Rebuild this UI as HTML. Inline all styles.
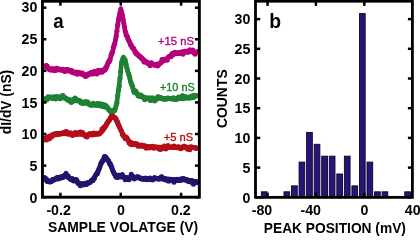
<!DOCTYPE html>
<html><head><meta charset="utf-8"><style>
html,body{margin:0;padding:0;background:#fff;width:420px;height:236px;overflow:hidden}
svg{display:block;font-family:"Liberation Sans",sans-serif;will-change:transform}
</style></head><body>
<svg width="420" height="236" viewBox="0 0 420 236">
<polyline points="43.5,67.0 46.0,66.0 50.0,68.8 56.0,70.3 62.0,69.6 68.0,69.9 74.0,72.8 80.0,73.9 86.0,74.7 92.0,73.9 98.0,73.0 102.0,71.5 105.6,67.5 108.0,63.0 110.4,58.0 112.5,52.0 114.4,44.6 115.6,40.0 118.4,20.0 120.8,8.5 123.3,20.0 124.9,30.0 128.3,40.0 130.5,44.2 133.5,49.3 138.0,54.5 142.0,58.0 146.0,61.5 150.0,64.0 155.0,65.0 160.0,63.2 165.0,60.0 170.0,56.4 175.0,53.5 180.0,52.2 185.0,51.0 190.0,51.6 195.0,52.8 197.5,52.5" fill="none" stroke="#b4007a" stroke-width="4.6" stroke-linejoin="round" stroke-linecap="round"/>
<g fill="#b4007a"><circle cx="43.50" cy="66.79" r="2.5"/><circle cx="44.25" cy="67.00" r="2.5"/><circle cx="45.00" cy="66.39" r="2.5"/><circle cx="45.75" cy="65.83" r="2.5"/><circle cx="46.50" cy="65.41" r="2.5"/><circle cx="47.25" cy="66.13" r="2.5"/><circle cx="48.00" cy="67.89" r="2.5"/><circle cx="48.75" cy="68.57" r="2.5"/><circle cx="49.50" cy="69.71" r="2.5"/><circle cx="50.25" cy="69.83" r="2.5"/><circle cx="51.00" cy="69.96" r="2.5"/><circle cx="51.75" cy="69.94" r="2.5"/><circle cx="52.50" cy="68.45" r="2.5"/><circle cx="53.25" cy="69.74" r="2.5"/><circle cx="54.00" cy="70.30" r="2.5"/><circle cx="54.75" cy="70.71" r="2.5"/><circle cx="55.50" cy="69.19" r="2.5"/><circle cx="56.25" cy="68.21" r="2.5"/><circle cx="57.00" cy="68.20" r="2.5"/><circle cx="57.75" cy="68.51" r="2.5"/><circle cx="58.50" cy="69.32" r="2.5"/><circle cx="59.25" cy="69.47" r="2.5"/><circle cx="60.00" cy="70.00" r="2.5"/><circle cx="60.75" cy="69.31" r="2.5"/><circle cx="61.50" cy="69.65" r="2.5"/><circle cx="62.25" cy="69.94" r="2.5"/><circle cx="63.00" cy="69.29" r="2.5"/><circle cx="63.75" cy="70.92" r="2.5"/><circle cx="64.50" cy="70.93" r="2.5"/><circle cx="65.25" cy="71.49" r="2.5"/><circle cx="66.00" cy="70.32" r="2.5"/><circle cx="66.75" cy="69.53" r="2.5"/><circle cx="67.50" cy="69.40" r="2.5"/><circle cx="68.25" cy="69.65" r="2.5"/><circle cx="69.00" cy="70.69" r="2.5"/><circle cx="69.75" cy="71.14" r="2.5"/><circle cx="70.50" cy="70.97" r="2.5"/><circle cx="71.25" cy="70.58" r="2.5"/><circle cx="72.00" cy="70.86" r="2.5"/><circle cx="72.75" cy="72.64" r="2.5"/><circle cx="73.50" cy="72.15" r="2.5"/><circle cx="74.25" cy="72.80" r="2.5"/><circle cx="75.00" cy="73.32" r="2.5"/><circle cx="75.75" cy="72.07" r="2.5"/><circle cx="76.50" cy="72.67" r="2.5"/><circle cx="77.25" cy="74.14" r="2.5"/><circle cx="78.00" cy="72.29" r="2.5"/><circle cx="78.75" cy="72.65" r="2.5"/><circle cx="79.50" cy="73.11" r="2.5"/><circle cx="80.25" cy="72.83" r="2.5"/><circle cx="81.00" cy="73.79" r="2.5"/><circle cx="81.75" cy="73.93" r="2.5"/><circle cx="82.50" cy="72.88" r="2.5"/><circle cx="83.25" cy="74.22" r="2.5"/><circle cx="84.00" cy="74.93" r="2.5"/><circle cx="84.75" cy="75.62" r="2.5"/><circle cx="85.50" cy="76.50" r="2.5"/><circle cx="86.25" cy="76.09" r="2.5"/><circle cx="87.00" cy="75.52" r="2.5"/><circle cx="87.75" cy="73.95" r="2.5"/><circle cx="88.50" cy="74.57" r="2.5"/><circle cx="89.25" cy="73.88" r="2.5"/><circle cx="90.00" cy="73.55" r="2.5"/><circle cx="90.75" cy="72.64" r="2.5"/><circle cx="91.50" cy="72.30" r="2.5"/><circle cx="92.25" cy="72.41" r="2.5"/><circle cx="93.00" cy="73.96" r="2.5"/><circle cx="93.75" cy="72.06" r="2.5"/><circle cx="94.50" cy="71.35" r="2.5"/><circle cx="95.25" cy="72.31" r="2.5"/><circle cx="96.00" cy="73.85" r="2.5"/><circle cx="96.75" cy="74.00" r="2.5"/><circle cx="97.50" cy="71.97" r="2.5"/><circle cx="98.25" cy="70.13" r="2.5"/><circle cx="99.00" cy="71.26" r="2.5"/><circle cx="99.75" cy="70.91" r="2.5"/><circle cx="100.50" cy="70.26" r="2.5"/><circle cx="101.25" cy="71.52" r="2.5"/><circle cx="102.00" cy="72.27" r="2.5"/><circle cx="102.75" cy="71.26" r="2.5"/><circle cx="103.50" cy="70.40" r="2.5"/><circle cx="104.25" cy="69.70" r="2.5"/><circle cx="105.00" cy="69.93" r="2.5"/><circle cx="105.75" cy="68.79" r="2.5"/><circle cx="106.50" cy="67.19" r="2.5"/><circle cx="107.25" cy="65.70" r="2.5"/><circle cx="108.00" cy="62.46" r="2.5"/><circle cx="108.75" cy="62.19" r="2.5"/><circle cx="109.50" cy="61.13" r="2.5"/><circle cx="110.25" cy="59.51" r="2.5"/><circle cx="111.00" cy="55.35" r="2.5"/><circle cx="111.75" cy="53.05" r="2.5"/><circle cx="112.50" cy="52.05" r="2.5"/><circle cx="113.25" cy="47.59" r="2.5"/><circle cx="114.00" cy="45.11" r="2.5"/><circle cx="114.75" cy="43.49" r="2.5"/><circle cx="115.50" cy="39.42" r="2.5"/><circle cx="116.25" cy="36.13" r="2.5"/><circle cx="117.00" cy="30.93" r="2.5"/><circle cx="117.75" cy="25.07" r="2.5"/><circle cx="118.50" cy="20.05" r="2.5"/><circle cx="119.25" cy="16.79" r="2.5"/><circle cx="120.00" cy="12.95" r="2.5"/><circle cx="120.75" cy="10.07" r="2.5"/><circle cx="121.50" cy="11.96" r="2.5"/><circle cx="122.25" cy="14.97" r="2.5"/><circle cx="123.00" cy="19.37" r="2.5"/><circle cx="123.75" cy="23.29" r="2.5"/><circle cx="124.50" cy="27.05" r="2.5"/><circle cx="125.25" cy="31.55" r="2.5"/><circle cx="126.00" cy="34.78" r="2.5"/><circle cx="126.75" cy="35.99" r="2.5"/><circle cx="127.50" cy="36.82" r="2.5"/><circle cx="128.25" cy="39.24" r="2.5"/><circle cx="129.00" cy="40.85" r="2.5"/><circle cx="129.75" cy="42.22" r="2.5"/><circle cx="130.50" cy="45.05" r="2.5"/><circle cx="131.25" cy="45.12" r="2.5"/><circle cx="132.00" cy="47.60" r="2.5"/><circle cx="132.75" cy="47.47" r="2.5"/><circle cx="133.50" cy="48.31" r="2.5"/><circle cx="134.25" cy="50.10" r="2.5"/><circle cx="135.00" cy="51.94" r="2.5"/><circle cx="135.75" cy="53.17" r="2.5"/><circle cx="136.50" cy="53.82" r="2.5"/><circle cx="137.25" cy="54.38" r="2.5"/><circle cx="138.00" cy="55.08" r="2.5"/><circle cx="138.75" cy="55.99" r="2.5"/><circle cx="139.50" cy="56.16" r="2.5"/><circle cx="140.25" cy="56.91" r="2.5"/><circle cx="141.00" cy="57.87" r="2.5"/><circle cx="141.75" cy="58.23" r="2.5"/><circle cx="142.50" cy="59.35" r="2.5"/><circle cx="143.25" cy="60.12" r="2.5"/><circle cx="144.00" cy="62.05" r="2.5"/><circle cx="144.75" cy="62.06" r="2.5"/><circle cx="145.50" cy="61.70" r="2.5"/><circle cx="146.25" cy="61.72" r="2.5"/><circle cx="147.00" cy="62.15" r="2.5"/><circle cx="147.75" cy="63.39" r="2.5"/><circle cx="148.50" cy="63.26" r="2.5"/><circle cx="149.25" cy="63.97" r="2.5"/><circle cx="150.00" cy="65.81" r="2.5"/><circle cx="150.75" cy="63.08" r="2.5"/><circle cx="151.50" cy="62.71" r="2.5"/><circle cx="152.25" cy="63.70" r="2.5"/><circle cx="153.00" cy="64.49" r="2.5"/><circle cx="153.75" cy="64.88" r="2.5"/><circle cx="154.50" cy="64.62" r="2.5"/><circle cx="155.25" cy="65.29" r="2.5"/><circle cx="156.00" cy="65.11" r="2.5"/><circle cx="156.75" cy="64.21" r="2.5"/><circle cx="157.50" cy="66.05" r="2.5"/><circle cx="158.25" cy="65.30" r="2.5"/><circle cx="159.00" cy="63.97" r="2.5"/><circle cx="159.75" cy="63.45" r="2.5"/><circle cx="160.50" cy="62.79" r="2.5"/><circle cx="161.25" cy="62.29" r="2.5"/><circle cx="162.00" cy="59.56" r="2.5"/><circle cx="162.75" cy="59.62" r="2.5"/><circle cx="163.50" cy="60.71" r="2.5"/><circle cx="164.25" cy="59.35" r="2.5"/><circle cx="165.00" cy="59.27" r="2.5"/><circle cx="165.75" cy="59.82" r="2.5"/><circle cx="166.50" cy="59.86" r="2.5"/><circle cx="167.25" cy="60.19" r="2.5"/><circle cx="168.00" cy="57.50" r="2.5"/><circle cx="168.75" cy="56.80" r="2.5"/><circle cx="169.50" cy="56.17" r="2.5"/><circle cx="170.25" cy="56.43" r="2.5"/><circle cx="171.00" cy="56.84" r="2.5"/><circle cx="171.75" cy="53.74" r="2.5"/><circle cx="172.50" cy="54.88" r="2.5"/><circle cx="173.25" cy="53.26" r="2.5"/><circle cx="174.00" cy="53.90" r="2.5"/><circle cx="174.75" cy="52.28" r="2.5"/><circle cx="175.50" cy="52.70" r="2.5"/><circle cx="176.25" cy="53.78" r="2.5"/><circle cx="177.00" cy="53.22" r="2.5"/><circle cx="177.75" cy="53.09" r="2.5"/><circle cx="178.50" cy="53.44" r="2.5"/><circle cx="179.25" cy="53.02" r="2.5"/><circle cx="180.00" cy="52.50" r="2.5"/><circle cx="180.75" cy="53.49" r="2.5"/><circle cx="181.50" cy="53.60" r="2.5"/><circle cx="182.25" cy="52.47" r="2.5"/><circle cx="183.00" cy="54.27" r="2.5"/><circle cx="183.75" cy="52.01" r="2.5"/><circle cx="184.50" cy="52.32" r="2.5"/><circle cx="185.25" cy="51.52" r="2.5"/><circle cx="186.00" cy="51.53" r="2.5"/><circle cx="186.75" cy="52.05" r="2.5"/><circle cx="187.50" cy="51.99" r="2.5"/><circle cx="188.25" cy="52.34" r="2.5"/><circle cx="189.00" cy="50.77" r="2.5"/><circle cx="189.75" cy="49.87" r="2.5"/><circle cx="190.50" cy="51.22" r="2.5"/><circle cx="191.25" cy="50.79" r="2.5"/><circle cx="192.00" cy="50.55" r="2.5"/><circle cx="192.75" cy="50.11" r="2.5"/><circle cx="193.50" cy="52.21" r="2.5"/><circle cx="194.25" cy="53.11" r="2.5"/><circle cx="195.00" cy="54.33" r="2.5"/><circle cx="195.75" cy="52.84" r="2.5"/><circle cx="196.50" cy="52.70" r="2.5"/><circle cx="197.25" cy="51.62" r="2.5"/></g>
<polyline points="43.5,99.0 50.0,97.5 56.0,96.5 62.0,97.5 68.0,99.2 74.0,100.4 80.0,101.4 86.0,102.7 92.0,104.8 98.0,105.6 104.0,106.9 108.0,108.4 111.0,110.8 113.0,111.5 115.0,109.0 116.1,106.0 117.2,100.0 118.5,90.0 120.4,75.0 121.5,62.0 123.3,57.0 125.1,60.0 127.5,70.0 130.2,80.0 133.0,88.7 136.5,93.0 140.0,95.6 145.0,97.9 150.0,99.0 156.0,98.5 160.0,98.2 170.0,98.8 180.0,98.8 186.0,98.3 190.0,96.5 194.0,95.2 196.5,95.5" fill="none" stroke="#1e8232" stroke-width="4.6" stroke-linejoin="round" stroke-linecap="round"/>
<g fill="#1e8232"><circle cx="43.50" cy="99.64" r="2.5"/><circle cx="44.25" cy="100.55" r="2.5"/><circle cx="45.00" cy="98.94" r="2.5"/><circle cx="45.75" cy="99.96" r="2.5"/><circle cx="46.50" cy="100.03" r="2.5"/><circle cx="47.25" cy="99.02" r="2.5"/><circle cx="48.00" cy="96.83" r="2.5"/><circle cx="48.75" cy="98.29" r="2.5"/><circle cx="49.50" cy="97.84" r="2.5"/><circle cx="50.25" cy="97.09" r="2.5"/><circle cx="51.00" cy="97.45" r="2.5"/><circle cx="51.75" cy="97.62" r="2.5"/><circle cx="52.50" cy="98.59" r="2.5"/><circle cx="53.25" cy="97.00" r="2.5"/><circle cx="54.00" cy="97.82" r="2.5"/><circle cx="54.75" cy="98.55" r="2.5"/><circle cx="55.50" cy="98.91" r="2.5"/><circle cx="56.25" cy="97.78" r="2.5"/><circle cx="57.00" cy="96.79" r="2.5"/><circle cx="57.75" cy="97.72" r="2.5"/><circle cx="58.50" cy="97.57" r="2.5"/><circle cx="59.25" cy="97.54" r="2.5"/><circle cx="60.00" cy="98.66" r="2.5"/><circle cx="60.75" cy="97.97" r="2.5"/><circle cx="61.50" cy="95.89" r="2.5"/><circle cx="62.25" cy="96.33" r="2.5"/><circle cx="63.00" cy="95.48" r="2.5"/><circle cx="63.75" cy="97.30" r="2.5"/><circle cx="64.50" cy="98.06" r="2.5"/><circle cx="65.25" cy="97.82" r="2.5"/><circle cx="66.00" cy="98.26" r="2.5"/><circle cx="66.75" cy="99.32" r="2.5"/><circle cx="67.50" cy="99.41" r="2.5"/><circle cx="68.25" cy="100.58" r="2.5"/><circle cx="69.00" cy="100.14" r="2.5"/><circle cx="69.75" cy="100.87" r="2.5"/><circle cx="70.50" cy="101.75" r="2.5"/><circle cx="71.25" cy="102.43" r="2.5"/><circle cx="72.00" cy="100.98" r="2.5"/><circle cx="72.75" cy="101.48" r="2.5"/><circle cx="73.50" cy="99.52" r="2.5"/><circle cx="74.25" cy="99.06" r="2.5"/><circle cx="75.00" cy="98.09" r="2.5"/><circle cx="75.75" cy="100.10" r="2.5"/><circle cx="76.50" cy="99.43" r="2.5"/><circle cx="77.25" cy="100.10" r="2.5"/><circle cx="78.00" cy="100.40" r="2.5"/><circle cx="78.75" cy="100.77" r="2.5"/><circle cx="79.50" cy="100.57" r="2.5"/><circle cx="80.25" cy="101.20" r="2.5"/><circle cx="81.00" cy="102.97" r="2.5"/><circle cx="81.75" cy="102.63" r="2.5"/><circle cx="82.50" cy="102.90" r="2.5"/><circle cx="83.25" cy="103.52" r="2.5"/><circle cx="84.00" cy="102.95" r="2.5"/><circle cx="84.75" cy="101.78" r="2.5"/><circle cx="85.50" cy="101.74" r="2.5"/><circle cx="86.25" cy="103.18" r="2.5"/><circle cx="87.00" cy="101.90" r="2.5"/><circle cx="87.75" cy="102.12" r="2.5"/><circle cx="88.50" cy="103.71" r="2.5"/><circle cx="89.25" cy="104.58" r="2.5"/><circle cx="90.00" cy="104.55" r="2.5"/><circle cx="90.75" cy="105.31" r="2.5"/><circle cx="91.50" cy="105.33" r="2.5"/><circle cx="92.25" cy="104.27" r="2.5"/><circle cx="93.00" cy="103.28" r="2.5"/><circle cx="93.75" cy="103.50" r="2.5"/><circle cx="94.50" cy="104.99" r="2.5"/><circle cx="95.25" cy="104.67" r="2.5"/><circle cx="96.00" cy="104.24" r="2.5"/><circle cx="96.75" cy="104.13" r="2.5"/><circle cx="97.50" cy="103.46" r="2.5"/><circle cx="98.25" cy="104.31" r="2.5"/><circle cx="99.00" cy="104.02" r="2.5"/><circle cx="99.75" cy="105.21" r="2.5"/><circle cx="100.50" cy="103.70" r="2.5"/><circle cx="101.25" cy="105.11" r="2.5"/><circle cx="102.00" cy="105.21" r="2.5"/><circle cx="102.75" cy="104.25" r="2.5"/><circle cx="103.50" cy="105.97" r="2.5"/><circle cx="104.25" cy="106.27" r="2.5"/><circle cx="105.00" cy="104.97" r="2.5"/><circle cx="105.75" cy="105.44" r="2.5"/><circle cx="106.50" cy="106.81" r="2.5"/><circle cx="107.25" cy="107.12" r="2.5"/><circle cx="108.00" cy="108.45" r="2.5"/><circle cx="108.75" cy="109.66" r="2.5"/><circle cx="109.50" cy="110.56" r="2.5"/><circle cx="110.25" cy="111.05" r="2.5"/><circle cx="111.00" cy="112.43" r="2.5"/><circle cx="111.75" cy="112.59" r="2.5"/><circle cx="112.50" cy="112.62" r="2.5"/><circle cx="113.25" cy="110.22" r="2.5"/><circle cx="114.00" cy="110.42" r="2.5"/><circle cx="114.75" cy="110.51" r="2.5"/><circle cx="115.50" cy="108.11" r="2.5"/><circle cx="116.25" cy="105.07" r="2.5"/><circle cx="117.00" cy="102.65" r="2.5"/><circle cx="117.75" cy="95.23" r="2.5"/><circle cx="118.50" cy="90.07" r="2.5"/><circle cx="119.25" cy="86.16" r="2.5"/><circle cx="120.00" cy="78.63" r="2.5"/><circle cx="120.75" cy="71.72" r="2.5"/><circle cx="121.50" cy="64.10" r="2.5"/><circle cx="122.25" cy="61.08" r="2.5"/><circle cx="123.00" cy="59.00" r="2.5"/><circle cx="123.75" cy="59.21" r="2.5"/><circle cx="124.50" cy="59.11" r="2.5"/><circle cx="125.25" cy="60.62" r="2.5"/><circle cx="126.00" cy="63.99" r="2.5"/><circle cx="126.75" cy="67.71" r="2.5"/><circle cx="127.50" cy="70.47" r="2.5"/><circle cx="128.25" cy="72.90" r="2.5"/><circle cx="129.00" cy="74.77" r="2.5"/><circle cx="129.75" cy="77.56" r="2.5"/><circle cx="130.50" cy="81.22" r="2.5"/><circle cx="131.25" cy="83.52" r="2.5"/><circle cx="132.00" cy="85.03" r="2.5"/><circle cx="132.75" cy="86.88" r="2.5"/><circle cx="133.50" cy="90.93" r="2.5"/><circle cx="134.25" cy="92.16" r="2.5"/><circle cx="135.00" cy="92.85" r="2.5"/><circle cx="135.75" cy="90.91" r="2.5"/><circle cx="136.50" cy="92.82" r="2.5"/><circle cx="137.25" cy="93.86" r="2.5"/><circle cx="138.00" cy="95.71" r="2.5"/><circle cx="138.75" cy="95.99" r="2.5"/><circle cx="139.50" cy="95.96" r="2.5"/><circle cx="140.25" cy="96.59" r="2.5"/><circle cx="141.00" cy="94.95" r="2.5"/><circle cx="141.75" cy="96.61" r="2.5"/><circle cx="142.50" cy="97.15" r="2.5"/><circle cx="143.25" cy="96.74" r="2.5"/><circle cx="144.00" cy="98.34" r="2.5"/><circle cx="144.75" cy="99.85" r="2.5"/><circle cx="145.50" cy="98.07" r="2.5"/><circle cx="146.25" cy="97.65" r="2.5"/><circle cx="147.00" cy="98.27" r="2.5"/><circle cx="147.75" cy="98.62" r="2.5"/><circle cx="148.50" cy="98.40" r="2.5"/><circle cx="149.25" cy="97.86" r="2.5"/><circle cx="150.00" cy="100.19" r="2.5"/><circle cx="150.75" cy="100.53" r="2.5"/><circle cx="151.50" cy="98.82" r="2.5"/><circle cx="152.25" cy="97.65" r="2.5"/><circle cx="153.00" cy="99.48" r="2.5"/><circle cx="153.75" cy="99.96" r="2.5"/><circle cx="154.50" cy="100.92" r="2.5"/><circle cx="155.25" cy="100.62" r="2.5"/><circle cx="156.00" cy="99.00" r="2.5"/><circle cx="156.75" cy="98.96" r="2.5"/><circle cx="157.50" cy="96.88" r="2.5"/><circle cx="158.25" cy="96.80" r="2.5"/><circle cx="159.00" cy="97.31" r="2.5"/><circle cx="159.75" cy="98.08" r="2.5"/><circle cx="160.50" cy="97.53" r="2.5"/><circle cx="161.25" cy="97.75" r="2.5"/><circle cx="162.00" cy="98.39" r="2.5"/><circle cx="162.75" cy="98.72" r="2.5"/><circle cx="163.50" cy="99.16" r="2.5"/><circle cx="164.25" cy="99.08" r="2.5"/><circle cx="165.00" cy="98.60" r="2.5"/><circle cx="165.75" cy="99.27" r="2.5"/><circle cx="166.50" cy="99.07" r="2.5"/><circle cx="167.25" cy="98.23" r="2.5"/><circle cx="168.00" cy="97.91" r="2.5"/><circle cx="168.75" cy="98.26" r="2.5"/><circle cx="169.50" cy="98.40" r="2.5"/><circle cx="170.25" cy="98.71" r="2.5"/><circle cx="171.00" cy="98.75" r="2.5"/><circle cx="171.75" cy="98.92" r="2.5"/><circle cx="172.50" cy="98.76" r="2.5"/><circle cx="173.25" cy="97.72" r="2.5"/><circle cx="174.00" cy="98.50" r="2.5"/><circle cx="174.75" cy="99.51" r="2.5"/><circle cx="175.50" cy="99.59" r="2.5"/><circle cx="176.25" cy="99.11" r="2.5"/><circle cx="177.00" cy="99.36" r="2.5"/><circle cx="177.75" cy="98.33" r="2.5"/><circle cx="178.50" cy="96.92" r="2.5"/><circle cx="179.25" cy="97.72" r="2.5"/><circle cx="180.00" cy="97.37" r="2.5"/><circle cx="180.75" cy="98.50" r="2.5"/><circle cx="181.50" cy="97.62" r="2.5"/><circle cx="182.25" cy="95.77" r="2.5"/><circle cx="183.00" cy="95.97" r="2.5"/><circle cx="183.75" cy="98.27" r="2.5"/><circle cx="184.50" cy="97.97" r="2.5"/><circle cx="185.25" cy="96.94" r="2.5"/><circle cx="186.00" cy="96.81" r="2.5"/><circle cx="186.75" cy="97.50" r="2.5"/><circle cx="187.50" cy="97.77" r="2.5"/><circle cx="188.25" cy="97.52" r="2.5"/><circle cx="189.00" cy="98.34" r="2.5"/><circle cx="189.75" cy="98.04" r="2.5"/><circle cx="190.50" cy="97.18" r="2.5"/><circle cx="191.25" cy="97.10" r="2.5"/><circle cx="192.00" cy="97.84" r="2.5"/><circle cx="192.75" cy="97.62" r="2.5"/><circle cx="193.50" cy="97.43" r="2.5"/><circle cx="194.25" cy="95.56" r="2.5"/><circle cx="195.00" cy="95.39" r="2.5"/><circle cx="195.75" cy="96.07" r="2.5"/><circle cx="196.50" cy="95.65" r="2.5"/></g>
<polyline points="43.5,139.0 48.0,136.6 52.0,135.0 56.0,133.4 60.0,133.2 66.0,133.9 72.0,134.0 78.0,134.0 84.0,135.0 90.0,135.0 96.0,134.6 100.0,133.3 103.0,130.5 105.5,127.0 108.0,122.5 110.0,118.5 112.0,116.2 114.0,117.0 116.0,120.0 118.0,124.5 120.5,129.5 123.0,134.0 125.5,137.5 128.0,140.0 130.0,142.0 135.0,143.9 140.0,145.0 150.0,146.7 160.0,147.1 170.0,147.8 180.0,147.5 190.0,147.1 196.5,147.8" fill="none" stroke="#b40f19" stroke-width="4.6" stroke-linejoin="round" stroke-linecap="round"/>
<g fill="#b40f19"><circle cx="43.50" cy="139.90" r="2.5"/><circle cx="44.25" cy="139.64" r="2.5"/><circle cx="45.00" cy="139.59" r="2.5"/><circle cx="45.75" cy="138.45" r="2.5"/><circle cx="46.50" cy="139.93" r="2.5"/><circle cx="47.25" cy="139.56" r="2.5"/><circle cx="48.00" cy="137.96" r="2.5"/><circle cx="48.75" cy="137.19" r="2.5"/><circle cx="49.50" cy="138.71" r="2.5"/><circle cx="50.25" cy="137.04" r="2.5"/><circle cx="51.00" cy="136.94" r="2.5"/><circle cx="51.75" cy="136.85" r="2.5"/><circle cx="52.50" cy="135.85" r="2.5"/><circle cx="53.25" cy="134.15" r="2.5"/><circle cx="54.00" cy="134.15" r="2.5"/><circle cx="54.75" cy="134.17" r="2.5"/><circle cx="55.50" cy="134.71" r="2.5"/><circle cx="56.25" cy="134.71" r="2.5"/><circle cx="57.00" cy="134.17" r="2.5"/><circle cx="57.75" cy="134.52" r="2.5"/><circle cx="58.50" cy="134.45" r="2.5"/><circle cx="59.25" cy="134.12" r="2.5"/><circle cx="60.00" cy="133.77" r="2.5"/><circle cx="60.75" cy="133.43" r="2.5"/><circle cx="61.50" cy="134.04" r="2.5"/><circle cx="62.25" cy="132.97" r="2.5"/><circle cx="63.00" cy="132.73" r="2.5"/><circle cx="63.75" cy="133.15" r="2.5"/><circle cx="64.50" cy="132.20" r="2.5"/><circle cx="65.25" cy="132.53" r="2.5"/><circle cx="66.00" cy="131.44" r="2.5"/><circle cx="66.75" cy="131.87" r="2.5"/><circle cx="67.50" cy="133.17" r="2.5"/><circle cx="68.25" cy="133.96" r="2.5"/><circle cx="69.00" cy="133.92" r="2.5"/><circle cx="69.75" cy="133.75" r="2.5"/><circle cx="70.50" cy="132.66" r="2.5"/><circle cx="71.25" cy="134.73" r="2.5"/><circle cx="72.00" cy="134.88" r="2.5"/><circle cx="72.75" cy="135.45" r="2.5"/><circle cx="73.50" cy="134.13" r="2.5"/><circle cx="74.25" cy="133.92" r="2.5"/><circle cx="75.00" cy="132.42" r="2.5"/><circle cx="75.75" cy="133.71" r="2.5"/><circle cx="76.50" cy="134.61" r="2.5"/><circle cx="77.25" cy="132.77" r="2.5"/><circle cx="78.00" cy="133.22" r="2.5"/><circle cx="78.75" cy="134.19" r="2.5"/><circle cx="79.50" cy="132.81" r="2.5"/><circle cx="80.25" cy="131.98" r="2.5"/><circle cx="81.00" cy="132.17" r="2.5"/><circle cx="81.75" cy="132.70" r="2.5"/><circle cx="82.50" cy="132.41" r="2.5"/><circle cx="83.25" cy="133.50" r="2.5"/><circle cx="84.00" cy="134.38" r="2.5"/><circle cx="84.75" cy="135.16" r="2.5"/><circle cx="85.50" cy="135.69" r="2.5"/><circle cx="86.25" cy="136.67" r="2.5"/><circle cx="87.00" cy="136.98" r="2.5"/><circle cx="87.75" cy="135.09" r="2.5"/><circle cx="88.50" cy="134.63" r="2.5"/><circle cx="89.25" cy="133.89" r="2.5"/><circle cx="90.00" cy="133.43" r="2.5"/><circle cx="90.75" cy="133.94" r="2.5"/><circle cx="91.50" cy="134.30" r="2.5"/><circle cx="92.25" cy="134.90" r="2.5"/><circle cx="93.00" cy="133.50" r="2.5"/><circle cx="93.75" cy="132.93" r="2.5"/><circle cx="94.50" cy="133.59" r="2.5"/><circle cx="95.25" cy="133.82" r="2.5"/><circle cx="96.00" cy="133.84" r="2.5"/><circle cx="96.75" cy="133.85" r="2.5"/><circle cx="97.50" cy="133.17" r="2.5"/><circle cx="98.25" cy="133.89" r="2.5"/><circle cx="99.00" cy="133.94" r="2.5"/><circle cx="99.75" cy="133.49" r="2.5"/><circle cx="100.50" cy="132.34" r="2.5"/><circle cx="101.25" cy="131.69" r="2.5"/><circle cx="102.00" cy="128.88" r="2.5"/><circle cx="102.75" cy="128.38" r="2.5"/><circle cx="103.50" cy="128.42" r="2.5"/><circle cx="104.25" cy="126.66" r="2.5"/><circle cx="105.00" cy="126.61" r="2.5"/><circle cx="105.75" cy="126.02" r="2.5"/><circle cx="106.50" cy="123.73" r="2.5"/><circle cx="107.25" cy="122.75" r="2.5"/><circle cx="108.00" cy="121.58" r="2.5"/><circle cx="108.75" cy="120.83" r="2.5"/><circle cx="109.50" cy="119.91" r="2.5"/><circle cx="110.25" cy="118.43" r="2.5"/><circle cx="111.00" cy="116.77" r="2.5"/><circle cx="111.75" cy="116.02" r="2.5"/><circle cx="112.50" cy="116.06" r="2.5"/><circle cx="113.25" cy="117.11" r="2.5"/><circle cx="114.00" cy="117.50" r="2.5"/><circle cx="114.75" cy="117.82" r="2.5"/><circle cx="115.50" cy="117.93" r="2.5"/><circle cx="116.25" cy="119.46" r="2.5"/><circle cx="117.00" cy="120.96" r="2.5"/><circle cx="117.75" cy="122.23" r="2.5"/><circle cx="118.50" cy="124.38" r="2.5"/><circle cx="119.25" cy="125.91" r="2.5"/><circle cx="120.00" cy="127.94" r="2.5"/><circle cx="120.75" cy="130.05" r="2.5"/><circle cx="121.50" cy="131.01" r="2.5"/><circle cx="122.25" cy="134.43" r="2.5"/><circle cx="123.00" cy="134.80" r="2.5"/><circle cx="123.75" cy="136.45" r="2.5"/><circle cx="124.50" cy="137.04" r="2.5"/><circle cx="125.25" cy="138.65" r="2.5"/><circle cx="126.00" cy="136.91" r="2.5"/><circle cx="126.75" cy="137.46" r="2.5"/><circle cx="127.50" cy="138.94" r="2.5"/><circle cx="128.25" cy="140.42" r="2.5"/><circle cx="129.00" cy="143.06" r="2.5"/><circle cx="129.75" cy="143.26" r="2.5"/><circle cx="130.50" cy="144.17" r="2.5"/><circle cx="131.25" cy="144.31" r="2.5"/><circle cx="132.00" cy="144.65" r="2.5"/><circle cx="132.75" cy="144.61" r="2.5"/><circle cx="133.50" cy="144.14" r="2.5"/><circle cx="134.25" cy="144.53" r="2.5"/><circle cx="135.00" cy="143.54" r="2.5"/><circle cx="135.75" cy="144.84" r="2.5"/><circle cx="136.50" cy="143.84" r="2.5"/><circle cx="137.25" cy="144.37" r="2.5"/><circle cx="138.00" cy="146.33" r="2.5"/><circle cx="138.75" cy="145.60" r="2.5"/><circle cx="139.50" cy="145.43" r="2.5"/><circle cx="140.25" cy="146.34" r="2.5"/><circle cx="141.00" cy="145.97" r="2.5"/><circle cx="141.75" cy="145.10" r="2.5"/><circle cx="142.50" cy="145.52" r="2.5"/><circle cx="143.25" cy="146.10" r="2.5"/><circle cx="144.00" cy="146.61" r="2.5"/><circle cx="144.75" cy="145.71" r="2.5"/><circle cx="145.50" cy="147.35" r="2.5"/><circle cx="146.25" cy="148.31" r="2.5"/><circle cx="147.00" cy="147.56" r="2.5"/><circle cx="147.75" cy="147.36" r="2.5"/><circle cx="148.50" cy="146.71" r="2.5"/><circle cx="149.25" cy="147.92" r="2.5"/><circle cx="150.00" cy="146.92" r="2.5"/><circle cx="150.75" cy="147.43" r="2.5"/><circle cx="151.50" cy="146.77" r="2.5"/><circle cx="152.25" cy="146.22" r="2.5"/><circle cx="153.00" cy="147.08" r="2.5"/><circle cx="153.75" cy="148.13" r="2.5"/><circle cx="154.50" cy="147.64" r="2.5"/><circle cx="155.25" cy="146.80" r="2.5"/><circle cx="156.00" cy="147.55" r="2.5"/><circle cx="156.75" cy="147.30" r="2.5"/><circle cx="157.50" cy="147.46" r="2.5"/><circle cx="158.25" cy="148.58" r="2.5"/><circle cx="159.00" cy="148.94" r="2.5"/><circle cx="159.75" cy="147.78" r="2.5"/><circle cx="160.50" cy="149.47" r="2.5"/><circle cx="161.25" cy="148.59" r="2.5"/><circle cx="162.00" cy="148.74" r="2.5"/><circle cx="162.75" cy="147.65" r="2.5"/><circle cx="163.50" cy="147.52" r="2.5"/><circle cx="164.25" cy="146.03" r="2.5"/><circle cx="165.00" cy="148.13" r="2.5"/><circle cx="165.75" cy="149.06" r="2.5"/><circle cx="166.50" cy="147.47" r="2.5"/><circle cx="167.25" cy="146.29" r="2.5"/><circle cx="168.00" cy="145.51" r="2.5"/><circle cx="168.75" cy="147.41" r="2.5"/><circle cx="169.50" cy="147.20" r="2.5"/><circle cx="170.25" cy="147.40" r="2.5"/><circle cx="171.00" cy="147.27" r="2.5"/><circle cx="171.75" cy="147.35" r="2.5"/><circle cx="172.50" cy="146.57" r="2.5"/><circle cx="173.25" cy="147.03" r="2.5"/><circle cx="174.00" cy="146.07" r="2.5"/><circle cx="174.75" cy="146.63" r="2.5"/><circle cx="175.50" cy="147.28" r="2.5"/><circle cx="176.25" cy="147.79" r="2.5"/><circle cx="177.00" cy="147.50" r="2.5"/><circle cx="177.75" cy="146.76" r="2.5"/><circle cx="178.50" cy="147.19" r="2.5"/><circle cx="179.25" cy="146.90" r="2.5"/><circle cx="180.00" cy="148.44" r="2.5"/><circle cx="180.75" cy="148.68" r="2.5"/><circle cx="181.50" cy="148.07" r="2.5"/><circle cx="182.25" cy="147.39" r="2.5"/><circle cx="183.00" cy="146.78" r="2.5"/><circle cx="183.75" cy="146.20" r="2.5"/><circle cx="184.50" cy="146.33" r="2.5"/><circle cx="185.25" cy="146.95" r="2.5"/><circle cx="186.00" cy="147.49" r="2.5"/><circle cx="186.75" cy="147.84" r="2.5"/><circle cx="187.50" cy="149.33" r="2.5"/><circle cx="188.25" cy="147.86" r="2.5"/><circle cx="189.00" cy="147.56" r="2.5"/><circle cx="189.75" cy="149.71" r="2.5"/><circle cx="190.50" cy="147.15" r="2.5"/><circle cx="191.25" cy="146.79" r="2.5"/><circle cx="192.00" cy="147.19" r="2.5"/><circle cx="192.75" cy="147.45" r="2.5"/><circle cx="193.50" cy="147.85" r="2.5"/><circle cx="194.25" cy="147.58" r="2.5"/><circle cx="195.00" cy="147.96" r="2.5"/><circle cx="195.75" cy="147.96" r="2.5"/><circle cx="196.50" cy="148.59" r="2.5"/></g>
<polyline points="43.5,179.5 45.0,179.0 47.0,181.6 50.0,181.2 54.0,180.0 58.0,177.4 62.0,176.5 66.0,174.7 70.0,178.7 74.0,180.3 78.0,182.5 82.0,184.0 86.0,184.8 90.0,182.5 94.0,177.8 98.0,171.0 101.5,163.0 105.3,157.5 108.0,160.2 111.2,167.0 115.4,176.0 118.8,175.0 123.9,177.1 129.0,177.5 134.0,177.0 140.0,178.1 148.0,178.9 156.0,178.5 164.0,178.5 172.0,179.4 180.0,180.0 188.0,180.0 194.0,181.3 197.5,181.5" fill="none" stroke="#23146e" stroke-width="4.6" stroke-linejoin="round" stroke-linecap="round"/>
<g fill="#23146e"><circle cx="43.50" cy="177.91" r="2.5"/><circle cx="44.25" cy="177.55" r="2.5"/><circle cx="45.00" cy="177.98" r="2.5"/><circle cx="45.75" cy="178.50" r="2.5"/><circle cx="46.50" cy="179.19" r="2.5"/><circle cx="47.25" cy="181.04" r="2.5"/><circle cx="48.00" cy="180.60" r="2.5"/><circle cx="48.75" cy="181.38" r="2.5"/><circle cx="49.50" cy="181.90" r="2.5"/><circle cx="50.25" cy="181.76" r="2.5"/><circle cx="51.00" cy="181.71" r="2.5"/><circle cx="51.75" cy="181.07" r="2.5"/><circle cx="52.50" cy="179.51" r="2.5"/><circle cx="53.25" cy="179.63" r="2.5"/><circle cx="54.00" cy="180.03" r="2.5"/><circle cx="54.75" cy="179.08" r="2.5"/><circle cx="55.50" cy="178.68" r="2.5"/><circle cx="56.25" cy="178.96" r="2.5"/><circle cx="57.00" cy="177.57" r="2.5"/><circle cx="57.75" cy="177.81" r="2.5"/><circle cx="58.50" cy="179.00" r="2.5"/><circle cx="59.25" cy="177.68" r="2.5"/><circle cx="60.00" cy="177.41" r="2.5"/><circle cx="60.75" cy="176.93" r="2.5"/><circle cx="61.50" cy="178.00" r="2.5"/><circle cx="62.25" cy="177.48" r="2.5"/><circle cx="63.00" cy="177.46" r="2.5"/><circle cx="63.75" cy="175.98" r="2.5"/><circle cx="64.50" cy="175.52" r="2.5"/><circle cx="65.25" cy="175.12" r="2.5"/><circle cx="66.00" cy="173.26" r="2.5"/><circle cx="66.75" cy="175.79" r="2.5"/><circle cx="67.50" cy="177.16" r="2.5"/><circle cx="68.25" cy="176.06" r="2.5"/><circle cx="69.00" cy="177.79" r="2.5"/><circle cx="69.75" cy="178.39" r="2.5"/><circle cx="70.50" cy="179.24" r="2.5"/><circle cx="71.25" cy="179.71" r="2.5"/><circle cx="72.00" cy="178.55" r="2.5"/><circle cx="72.75" cy="179.05" r="2.5"/><circle cx="73.50" cy="180.90" r="2.5"/><circle cx="74.25" cy="180.44" r="2.5"/><circle cx="75.00" cy="179.99" r="2.5"/><circle cx="75.75" cy="179.60" r="2.5"/><circle cx="76.50" cy="179.65" r="2.5"/><circle cx="77.25" cy="181.16" r="2.5"/><circle cx="78.00" cy="183.36" r="2.5"/><circle cx="78.75" cy="183.66" r="2.5"/><circle cx="79.50" cy="183.80" r="2.5"/><circle cx="80.25" cy="185.66" r="2.5"/><circle cx="81.00" cy="184.58" r="2.5"/><circle cx="81.75" cy="183.91" r="2.5"/><circle cx="82.50" cy="184.55" r="2.5"/><circle cx="83.25" cy="184.98" r="2.5"/><circle cx="84.00" cy="183.99" r="2.5"/><circle cx="84.75" cy="183.32" r="2.5"/><circle cx="85.50" cy="184.21" r="2.5"/><circle cx="86.25" cy="184.57" r="2.5"/><circle cx="87.00" cy="183.07" r="2.5"/><circle cx="87.75" cy="182.93" r="2.5"/><circle cx="88.50" cy="182.39" r="2.5"/><circle cx="89.25" cy="182.73" r="2.5"/><circle cx="90.00" cy="182.28" r="2.5"/><circle cx="90.75" cy="181.42" r="2.5"/><circle cx="91.50" cy="180.32" r="2.5"/><circle cx="92.25" cy="180.49" r="2.5"/><circle cx="93.00" cy="180.52" r="2.5"/><circle cx="93.75" cy="178.71" r="2.5"/><circle cx="94.50" cy="178.03" r="2.5"/><circle cx="95.25" cy="175.69" r="2.5"/><circle cx="96.00" cy="174.47" r="2.5"/><circle cx="96.75" cy="173.80" r="2.5"/><circle cx="97.50" cy="173.52" r="2.5"/><circle cx="98.25" cy="171.11" r="2.5"/><circle cx="99.00" cy="169.06" r="2.5"/><circle cx="99.75" cy="167.37" r="2.5"/><circle cx="100.50" cy="164.25" r="2.5"/><circle cx="101.25" cy="162.96" r="2.5"/><circle cx="102.00" cy="161.34" r="2.5"/><circle cx="102.75" cy="160.94" r="2.5"/><circle cx="103.50" cy="159.01" r="2.5"/><circle cx="104.25" cy="156.70" r="2.5"/><circle cx="105.00" cy="156.57" r="2.5"/><circle cx="105.75" cy="157.35" r="2.5"/><circle cx="106.50" cy="157.88" r="2.5"/><circle cx="107.25" cy="159.71" r="2.5"/><circle cx="108.00" cy="160.12" r="2.5"/><circle cx="108.75" cy="161.24" r="2.5"/><circle cx="109.50" cy="163.46" r="2.5"/><circle cx="110.25" cy="163.71" r="2.5"/><circle cx="111.00" cy="165.24" r="2.5"/><circle cx="111.75" cy="167.36" r="2.5"/><circle cx="112.50" cy="170.01" r="2.5"/><circle cx="113.25" cy="171.39" r="2.5"/><circle cx="114.00" cy="173.26" r="2.5"/><circle cx="114.75" cy="174.21" r="2.5"/><circle cx="115.50" cy="175.99" r="2.5"/><circle cx="116.25" cy="177.16" r="2.5"/><circle cx="117.00" cy="175.80" r="2.5"/><circle cx="117.75" cy="177.46" r="2.5"/><circle cx="118.50" cy="175.84" r="2.5"/><circle cx="119.25" cy="175.65" r="2.5"/><circle cx="120.00" cy="175.92" r="2.5"/><circle cx="120.75" cy="176.92" r="2.5"/><circle cx="121.50" cy="175.74" r="2.5"/><circle cx="122.25" cy="174.43" r="2.5"/><circle cx="123.00" cy="176.05" r="2.5"/><circle cx="123.75" cy="177.30" r="2.5"/><circle cx="124.50" cy="177.83" r="2.5"/><circle cx="125.25" cy="179.82" r="2.5"/><circle cx="126.00" cy="179.01" r="2.5"/><circle cx="126.75" cy="178.58" r="2.5"/><circle cx="127.50" cy="178.92" r="2.5"/><circle cx="128.25" cy="178.67" r="2.5"/><circle cx="129.00" cy="179.64" r="2.5"/><circle cx="129.75" cy="177.67" r="2.5"/><circle cx="130.50" cy="177.18" r="2.5"/><circle cx="131.25" cy="174.28" r="2.5"/><circle cx="132.00" cy="176.08" r="2.5"/><circle cx="132.75" cy="176.14" r="2.5"/><circle cx="133.50" cy="177.24" r="2.5"/><circle cx="134.25" cy="178.97" r="2.5"/><circle cx="135.00" cy="178.33" r="2.5"/><circle cx="135.75" cy="177.80" r="2.5"/><circle cx="136.50" cy="177.32" r="2.5"/><circle cx="137.25" cy="176.81" r="2.5"/><circle cx="138.00" cy="176.73" r="2.5"/><circle cx="138.75" cy="177.81" r="2.5"/><circle cx="139.50" cy="178.00" r="2.5"/><circle cx="140.25" cy="178.18" r="2.5"/><circle cx="141.00" cy="178.09" r="2.5"/><circle cx="141.75" cy="178.97" r="2.5"/><circle cx="142.50" cy="179.18" r="2.5"/><circle cx="143.25" cy="178.81" r="2.5"/><circle cx="144.00" cy="179.29" r="2.5"/><circle cx="144.75" cy="178.92" r="2.5"/><circle cx="145.50" cy="177.89" r="2.5"/><circle cx="146.25" cy="179.49" r="2.5"/><circle cx="147.00" cy="179.65" r="2.5"/><circle cx="147.75" cy="178.58" r="2.5"/><circle cx="148.50" cy="179.60" r="2.5"/><circle cx="149.25" cy="179.57" r="2.5"/><circle cx="150.00" cy="177.92" r="2.5"/><circle cx="150.75" cy="179.59" r="2.5"/><circle cx="151.50" cy="179.50" r="2.5"/><circle cx="152.25" cy="179.90" r="2.5"/><circle cx="153.00" cy="179.54" r="2.5"/><circle cx="153.75" cy="179.02" r="2.5"/><circle cx="154.50" cy="177.52" r="2.5"/><circle cx="155.25" cy="178.72" r="2.5"/><circle cx="156.00" cy="178.64" r="2.5"/><circle cx="156.75" cy="178.34" r="2.5"/><circle cx="157.50" cy="178.70" r="2.5"/><circle cx="158.25" cy="178.69" r="2.5"/><circle cx="159.00" cy="179.18" r="2.5"/><circle cx="159.75" cy="178.60" r="2.5"/><circle cx="160.50" cy="178.53" r="2.5"/><circle cx="161.25" cy="176.72" r="2.5"/><circle cx="162.00" cy="177.08" r="2.5"/><circle cx="162.75" cy="178.21" r="2.5"/><circle cx="163.50" cy="179.45" r="2.5"/><circle cx="164.25" cy="178.79" r="2.5"/><circle cx="165.00" cy="178.67" r="2.5"/><circle cx="165.75" cy="180.06" r="2.5"/><circle cx="166.50" cy="179.33" r="2.5"/><circle cx="167.25" cy="179.81" r="2.5"/><circle cx="168.00" cy="180.93" r="2.5"/><circle cx="168.75" cy="180.25" r="2.5"/><circle cx="169.50" cy="180.88" r="2.5"/><circle cx="170.25" cy="179.66" r="2.5"/><circle cx="171.00" cy="179.74" r="2.5"/><circle cx="171.75" cy="179.58" r="2.5"/><circle cx="172.50" cy="179.66" r="2.5"/><circle cx="173.25" cy="180.57" r="2.5"/><circle cx="174.00" cy="182.21" r="2.5"/><circle cx="174.75" cy="180.64" r="2.5"/><circle cx="175.50" cy="179.80" r="2.5"/><circle cx="176.25" cy="180.22" r="2.5"/><circle cx="177.00" cy="179.19" r="2.5"/><circle cx="177.75" cy="179.90" r="2.5"/><circle cx="178.50" cy="180.41" r="2.5"/><circle cx="179.25" cy="180.02" r="2.5"/><circle cx="180.00" cy="180.49" r="2.5"/><circle cx="180.75" cy="178.99" r="2.5"/><circle cx="181.50" cy="180.04" r="2.5"/><circle cx="182.25" cy="178.72" r="2.5"/><circle cx="183.00" cy="178.65" r="2.5"/><circle cx="183.75" cy="178.72" r="2.5"/><circle cx="184.50" cy="178.90" r="2.5"/><circle cx="185.25" cy="180.06" r="2.5"/><circle cx="186.00" cy="180.10" r="2.5"/><circle cx="186.75" cy="179.73" r="2.5"/><circle cx="187.50" cy="180.29" r="2.5"/><circle cx="188.25" cy="181.56" r="2.5"/><circle cx="189.00" cy="181.12" r="2.5"/><circle cx="189.75" cy="181.23" r="2.5"/><circle cx="190.50" cy="182.09" r="2.5"/><circle cx="191.25" cy="181.86" r="2.5"/><circle cx="192.00" cy="180.48" r="2.5"/><circle cx="192.75" cy="182.89" r="2.5"/><circle cx="193.50" cy="184.16" r="2.5"/><circle cx="194.25" cy="181.43" r="2.5"/><circle cx="195.00" cy="181.39" r="2.5"/><circle cx="195.75" cy="181.77" r="2.5"/><circle cx="196.50" cy="182.48" r="2.5"/><circle cx="197.25" cy="182.67" r="2.5"/></g>
<rect x="42.45" y="1.22" width="156.9" height="195.98" fill="none" stroke="#000" stroke-width="2.9"/>
<line x1="43" y1="197.20" x2="46.4" y2="197.20" stroke="#000" stroke-width="2.5"/>
<line x1="199" y1="197.20" x2="194.9" y2="197.20" stroke="#000" stroke-width="2.5"/>
<line x1="43" y1="165.62" x2="46.4" y2="165.62" stroke="#000" stroke-width="2.5"/>
<line x1="199" y1="165.62" x2="194.9" y2="165.62" stroke="#000" stroke-width="2.5"/>
<line x1="43" y1="134.03" x2="46.4" y2="134.03" stroke="#000" stroke-width="2.5"/>
<line x1="199" y1="134.03" x2="194.9" y2="134.03" stroke="#000" stroke-width="2.5"/>
<line x1="43" y1="102.45" x2="46.4" y2="102.45" stroke="#000" stroke-width="2.5"/>
<line x1="199" y1="102.45" x2="194.9" y2="102.45" stroke="#000" stroke-width="2.5"/>
<line x1="43" y1="70.87" x2="46.4" y2="70.87" stroke="#000" stroke-width="2.5"/>
<line x1="199" y1="70.87" x2="194.9" y2="70.87" stroke="#000" stroke-width="2.5"/>
<line x1="43" y1="39.28" x2="46.4" y2="39.28" stroke="#000" stroke-width="2.5"/>
<line x1="199" y1="39.28" x2="194.9" y2="39.28" stroke="#000" stroke-width="2.5"/>
<line x1="43" y1="7.70" x2="46.4" y2="7.70" stroke="#000" stroke-width="2.5"/>
<line x1="199" y1="7.70" x2="194.9" y2="7.70" stroke="#000" stroke-width="2.5"/>
<line x1="60.4" y1="197" x2="60.4" y2="192.7" stroke="#000" stroke-width="2.5"/>
<line x1="60.4" y1="1.5" x2="60.4" y2="5.7" stroke="#000" stroke-width="2.5"/>
<line x1="120.75" y1="197" x2="120.75" y2="192.7" stroke="#000" stroke-width="2.5"/>
<line x1="120.75" y1="1.5" x2="120.75" y2="5.7" stroke="#000" stroke-width="2.5"/>
<line x1="181.1" y1="197" x2="181.1" y2="192.7" stroke="#000" stroke-width="2.5"/>
<line x1="181.1" y1="1.5" x2="181.1" y2="5.7" stroke="#000" stroke-width="2.5"/>
<rect x="261.35" y="191.81" width="5.70" height="5.94" fill="#281478" stroke="#0a0520" stroke-width="0.9"/>
<rect x="283.99" y="191.81" width="5.70" height="5.94" fill="#281478" stroke="#0a0520" stroke-width="0.9"/>
<rect x="291.54" y="185.87" width="5.70" height="11.88" fill="#281478" stroke="#0a0520" stroke-width="0.9"/>
<rect x="299.08" y="162.11" width="5.70" height="35.64" fill="#281478" stroke="#0a0520" stroke-width="0.9"/>
<rect x="306.63" y="132.41" width="5.70" height="65.34" fill="#281478" stroke="#0a0520" stroke-width="0.9"/>
<rect x="314.18" y="144.29" width="5.70" height="53.46" fill="#281478" stroke="#0a0520" stroke-width="0.9"/>
<rect x="321.73" y="156.17" width="5.70" height="41.58" fill="#281478" stroke="#0a0520" stroke-width="0.9"/>
<rect x="329.27" y="156.17" width="5.70" height="41.58" fill="#281478" stroke="#0a0520" stroke-width="0.9"/>
<rect x="336.82" y="173.99" width="5.70" height="23.76" fill="#281478" stroke="#0a0520" stroke-width="0.9"/>
<rect x="344.37" y="156.17" width="5.70" height="41.58" fill="#281478" stroke="#0a0520" stroke-width="0.9"/>
<rect x="351.91" y="185.87" width="5.70" height="11.88" fill="#281478" stroke="#0a0520" stroke-width="0.9"/>
<rect x="359.46" y="13.61" width="5.70" height="184.14" fill="#281478" stroke="#0a0520" stroke-width="0.9"/>
<rect x="367.01" y="162.11" width="5.70" height="35.64" fill="#281478" stroke="#0a0520" stroke-width="0.9"/>
<rect x="374.55" y="191.81" width="5.70" height="5.94" fill="#281478" stroke="#0a0520" stroke-width="0.9"/>
<rect x="382.10" y="191.81" width="5.70" height="5.94" fill="#281478" stroke="#0a0520" stroke-width="0.9"/>
<rect x="404.74" y="191.81" width="5.70" height="5.94" fill="#281478" stroke="#0a0520" stroke-width="0.9"/>
<rect x="255.5" y="1.22" width="156.9" height="196.13" fill="none" stroke="#000" stroke-width="2.8"/>
<line x1="256" y1="197.30" x2="260.3" y2="197.30" stroke="#000" stroke-width="2.5"/>
<line x1="412" y1="197.30" x2="407.9" y2="197.30" stroke="#000" stroke-width="2.5"/>
<line x1="256" y1="167.60" x2="260.3" y2="167.60" stroke="#000" stroke-width="2.5"/>
<line x1="412" y1="167.60" x2="407.9" y2="167.60" stroke="#000" stroke-width="2.5"/>
<line x1="256" y1="137.90" x2="260.3" y2="137.90" stroke="#000" stroke-width="2.5"/>
<line x1="412" y1="137.90" x2="407.9" y2="137.90" stroke="#000" stroke-width="2.5"/>
<line x1="256" y1="108.20" x2="260.3" y2="108.20" stroke="#000" stroke-width="2.5"/>
<line x1="412" y1="108.20" x2="407.9" y2="108.20" stroke="#000" stroke-width="2.5"/>
<line x1="256" y1="78.50" x2="260.3" y2="78.50" stroke="#000" stroke-width="2.5"/>
<line x1="412" y1="78.50" x2="407.9" y2="78.50" stroke="#000" stroke-width="2.5"/>
<line x1="256" y1="48.80" x2="260.3" y2="48.80" stroke="#000" stroke-width="2.5"/>
<line x1="412" y1="48.80" x2="407.9" y2="48.80" stroke="#000" stroke-width="2.5"/>
<line x1="256" y1="19.10" x2="260.3" y2="19.10" stroke="#000" stroke-width="2.5"/>
<line x1="412" y1="19.10" x2="407.9" y2="19.10" stroke="#000" stroke-width="2.5"/>
<line x1="267.55" y1="197" x2="267.55" y2="192.7" stroke="#000" stroke-width="2.5"/>
<line x1="267.55" y1="1.5" x2="267.55" y2="5.9" stroke="#000" stroke-width="2.5"/>
<line x1="315.9" y1="197" x2="315.9" y2="192.7" stroke="#000" stroke-width="2.5"/>
<line x1="315.9" y1="1.5" x2="315.9" y2="5.9" stroke="#000" stroke-width="2.5"/>
<line x1="364.3" y1="197" x2="364.3" y2="192.7" stroke="#000" stroke-width="2.5"/>
<line x1="364.3" y1="1.5" x2="364.3" y2="5.9" stroke="#000" stroke-width="2.5"/>
<text transform="translate(37.4 202.6)" font-size="14.2" font-weight="bold" text-anchor="end" fill="#000">0</text>
<text transform="translate(37.4 170.9)" font-size="14.2" font-weight="bold" text-anchor="end" fill="#000">5</text>
<text transform="translate(37.4 139.2)" font-size="14.2" font-weight="bold" text-anchor="end" fill="#000">10</text>
<text transform="translate(37.4 107.5)" font-size="14.2" font-weight="bold" text-anchor="end" fill="#000">15</text>
<text transform="translate(37.4 75.8)" font-size="14.2" font-weight="bold" text-anchor="end" fill="#000">20</text>
<text transform="translate(37.4 44.1)" font-size="14.2" font-weight="bold" text-anchor="end" fill="#000">25</text>
<text transform="translate(37.4 12.4)" font-size="14.2" font-weight="bold" text-anchor="end" fill="#000">30</text>
<text transform="translate(250.4 202.6)" font-size="14.2" font-weight="bold" text-anchor="end" fill="#000">0</text>
<text transform="translate(250.4 172.83)" font-size="14.2" font-weight="bold" text-anchor="end" fill="#000">5</text>
<text transform="translate(250.4 143.07)" font-size="14.2" font-weight="bold" text-anchor="end" fill="#000">10</text>
<text transform="translate(250.4 113.3)" font-size="14.2" font-weight="bold" text-anchor="end" fill="#000">15</text>
<text transform="translate(250.4 83.54)" font-size="14.2" font-weight="bold" text-anchor="end" fill="#000">20</text>
<text transform="translate(250.4 53.77)" font-size="14.2" font-weight="bold" text-anchor="end" fill="#000">25</text>
<text transform="translate(250.4 24.01)" font-size="14.2" font-weight="bold" text-anchor="end" fill="#000">30</text>
<text transform="translate(58.6 214.6)" font-size="14.2" font-weight="bold" text-anchor="middle" fill="#000">-0.2</text>
<text transform="translate(120.9 214.6)" font-size="14.2" font-weight="bold" text-anchor="middle" fill="#000">0</text>
<text transform="translate(180.9 214.6)" font-size="14.2" font-weight="bold" text-anchor="middle" fill="#000">0.2</text>
<text transform="translate(262.0 214.6)" font-size="14.2" font-weight="bold" text-anchor="middle" fill="#000">-80</text>
<text transform="translate(310.7 214.6)" font-size="14.2" font-weight="bold" text-anchor="middle" fill="#000">-40</text>
<text transform="translate(364.5 214.6)" font-size="14.2" font-weight="bold" text-anchor="middle" fill="#000">0</text>
<text transform="translate(412.7 214.6)" font-size="14.2" font-weight="bold" text-anchor="middle" fill="#000">40</text>
<text transform="translate(48.0 231.7)" font-size="13.9" font-weight="bold" text-anchor="start" fill="#000">SAMPLE VOLATGE (V)</text>
<text transform="translate(263.8 232.9)" font-size="13.75" font-weight="bold" text-anchor="start" fill="#000">PEAK POSITION (mV)</text>
<text transform="translate(227.1 128.0) rotate(-90)" font-size="13.9" font-weight="bold" text-anchor="start" fill="#000">COUNTS</text>
<text transform="translate(10.6 134.2) rotate(-90)" font-size="13.8" font-weight="bold" text-anchor="start" fill="#000">dI/dV (nS)</text>
<text transform="translate(53.2 27.7) scale(0.97 1)" font-size="19.3" font-weight="bold" text-anchor="start" fill="#000">a</text>
<text transform="translate(269.3 28.0) scale(0.97 1)" font-size="20.0" font-weight="bold" text-anchor="start" fill="#000">b</text>
<text transform="translate(158.0 45.3) scale(1.065 1)" font-size="10.6" font-weight="normal" text-anchor="start" fill="#b4007a" stroke="#b4007a" stroke-width="0.35">+15 nS</text>
<text transform="translate(160.0 91.4) scale(1.025 1)" font-size="10.6" font-weight="normal" text-anchor="start" fill="#1e8232" stroke="#1e8232" stroke-width="0.35">+10 nS</text>
<text transform="translate(163.8 140.9) scale(1.05 1)" font-size="10.6" font-weight="normal" text-anchor="start" fill="#b40f19" stroke="#b40f19" stroke-width="0.35">+5 nS</text>
</svg>
</body></html>
